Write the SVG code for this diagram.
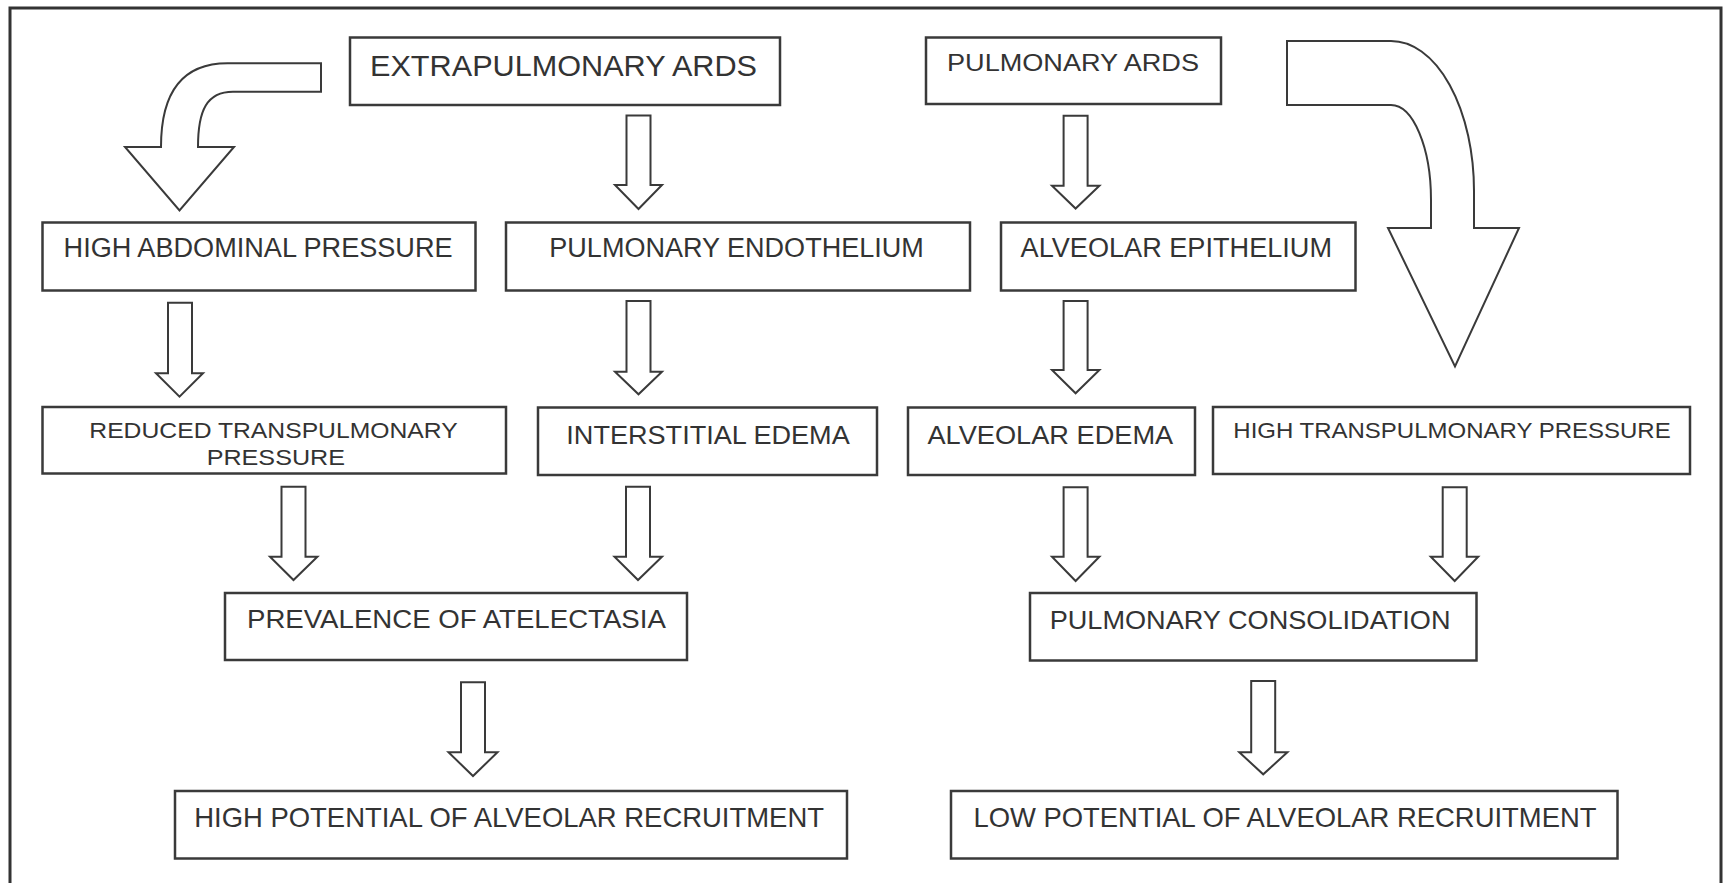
<svg xmlns="http://www.w3.org/2000/svg" width="1727" height="883" viewBox="0 0 1727 883">
<style>
.box{fill:#fff;stroke:#3a3a3a;stroke-width:2.5}
.arr{fill:#fff;stroke:#3a3a3a;stroke-width:2;stroke-linejoin:miter}
.t{font-family:"Liberation Sans",Arial,sans-serif;fill:#333}
</style>
<rect x="0" y="0" width="1727" height="883" fill="#fff"/>
<rect x="10" y="8" width="1711" height="900" fill="none" stroke="#333" stroke-width="3"/>
<g id="connectors">
<path class="arr" d="M321 63.3 L227.5 63.3 C180 63.3 161 95 161 147 L125 147 L179.5 210.5 L234 147 L198 147 C198 110 207 91.7 233 91.7 L321 91.7 Z"/>
<path class="arr" d="M1287 41 L1391 41 A83 150 0 0 1 1474 191 L1474 228 L1519 228 L1455 366.5 L1388 228 L1431 228 L1431 200 A40 95 0 0 0 1391 105 L1287 105 Z"/>
<path class="arr" d="M626.5 115.5 H650.5 V185 H662 L638.5 209 L615 185 H626.5 Z"/>
<path class="arr" d="M1063.6 115.7 H1087.6 V185.7 H1099.4 L1075.6 208.5 L1052 185.7 H1063.6 Z"/>
<path class="arr" d="M168 302.7 H192 V373.3 H203 L179.5 396.7 L156 373.3 H168 Z"/>
<path class="arr" d="M626.5 301 H650.5 V371.7 H662 L638.5 394.3 L615 371.7 H626.5 Z"/>
<path class="arr" d="M1063.6 301 H1087.6 V370 H1099.4 L1075.6 393.3 L1052 370 H1063.6 Z"/>
<path class="arr" d="M281.5 486.7 H305.5 V556.7 H317.4 L293.5 580 L270 556.7 H281.5 Z"/>
<path class="arr" d="M626 486.7 H650 V556.7 H662 L638 580 L614.5 556.7 H626 Z"/>
<path class="arr" d="M1063.6 487.3 H1087.6 V556.7 H1099.4 L1075.6 581 L1052 556.7 H1063.6 Z"/>
<path class="arr" d="M1442.7 487.3 H1466.7 V556.7 H1478.2 L1454.7 581 L1430.8 556.7 H1442.7 Z"/>
<path class="arr" d="M461 682.3 H485 V752.3 H497.5 L473 776 L448.5 752.3 H461 Z"/>
<path class="arr" d="M1251.2 681 H1275.2 V752.3 H1287.4 L1263.2 774.3 L1239.3 752.3 H1251.2 Z"/>
</g>
<g id="n1"><rect class="box" x="350" y="37.5" width="430" height="67.5"/><text class="t" x="370" y="76" font-size="29" textLength="387" lengthAdjust="spacingAndGlyphs">EXTRAPULMONARY ARDS</text></g>
<g id="n2"><rect class="box" x="926" y="37.5" width="295" height="66.5"/><text class="t" x="947" y="70.7" font-size="23.5" textLength="252" lengthAdjust="spacingAndGlyphs">PULMONARY ARDS</text></g>
<g id="n3"><rect class="box" x="42.5" y="222.5" width="433" height="68"/><text class="t" x="63.6" y="257" font-size="27" textLength="389" lengthAdjust="spacingAndGlyphs">HIGH ABDOMINAL  PRESSURE</text></g>
<g id="n4"><rect class="box" x="506" y="222.5" width="464" height="68"/><text class="t" x="549.3" y="257" font-size="27" textLength="374.5" lengthAdjust="spacingAndGlyphs">PULMONARY ENDOTHELIUM</text></g>
<g id="n5"><rect class="box" x="1001" y="222.5" width="354.5" height="68"/><text class="t" x="1020.6" y="257" font-size="27" textLength="311.4" lengthAdjust="spacingAndGlyphs">ALVEOLAR EPITHELIUM</text></g>
<g id="n6"><rect class="box" x="42.5" y="407" width="463.5" height="66.5"/><text class="t" x="89.3" y="438.3" font-size="22.5" textLength="368.4" lengthAdjust="spacingAndGlyphs">REDUCED TRANSPULMONARY</text><text class="t" x="206.7" y="465" font-size="22.5" textLength="138.3" lengthAdjust="spacingAndGlyphs">PRESSURE</text></g>
<g id="n7"><rect class="box" x="538" y="407.5" width="339" height="67.5"/><text class="t" x="566.3" y="443.5" font-size="25.5" textLength="283.4" lengthAdjust="spacingAndGlyphs">INTERSTITIAL EDEMA</text></g>
<g id="n8"><rect class="box" x="908" y="407.5" width="287" height="67.5"/><text class="t" x="927.4" y="443.5" font-size="25.5" textLength="245.8" lengthAdjust="spacingAndGlyphs">ALVEOLAR EDEMA</text></g>
<g id="n9"><rect class="box" x="1213" y="407" width="477" height="67"/><text class="t" x="1233.3" y="438.3" font-size="22.5" textLength="437.4" lengthAdjust="spacingAndGlyphs">HIGH TRANSPULMONARY PRESSURE</text></g>
<g id="n10"><rect class="box" x="225" y="593" width="462" height="67"/><text class="t" x="247" y="627.7" font-size="26" textLength="418.8" lengthAdjust="spacingAndGlyphs">PREVALENCE OF ATELECTASIA</text></g>
<g id="n11"><rect class="box" x="1030" y="593" width="446.5" height="67.5"/><text class="t" x="1049.7" y="629" font-size="26" textLength="400.8" lengthAdjust="spacingAndGlyphs">PULMONARY CONSOLIDATION</text></g>
<g id="n12"><rect class="box" x="175" y="791" width="672" height="67.5"/><text class="t" x="194.2" y="826.7" font-size="27.5" textLength="629.8" lengthAdjust="spacingAndGlyphs">HIGH POTENTIAL OF ALVEOLAR RECRUITMENT</text></g>
<g id="n13"><rect class="box" x="951" y="791" width="666.5" height="67.5"/><text class="t" x="973.4" y="826.7" font-size="27.5" textLength="623.1" lengthAdjust="spacingAndGlyphs">LOW POTENTIAL OF ALVEOLAR RECRUITMENT</text></g>
</svg>
